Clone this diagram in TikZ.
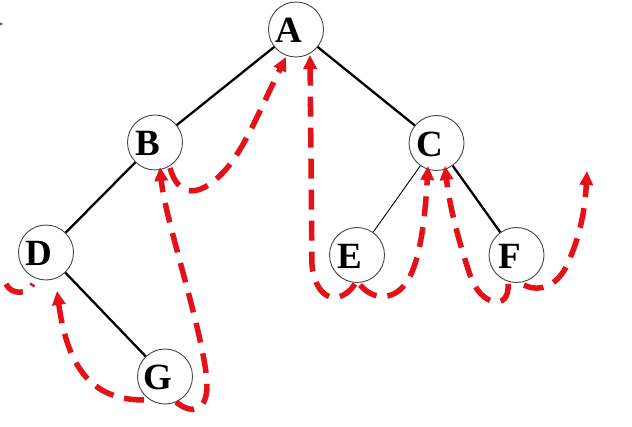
\documentclass[tikz,border=0pt]{standalone}
\usepackage{fontspec}
\setmainfont{Liberation Serif}
\usetikzlibrary{arrows.meta}
\definecolor{thr}{RGB}{228,18,24}
\definecolor{ring}{RGB}{70,70,70}
\tikzset{
  tn/.style={circle, draw=ring, line width=0.9pt, fill=white, minimum size=55pt, inner sep=0pt},
  lab/.style={font=\fontsize{37}{37}\selectfont\bfseries, xshift=-7pt, yshift=-1pt, inner sep=0pt},
  edge/.style={line width=2.3pt, black},
  thinedge/.style={line width=0.9pt, black},
  thread/.style={thr, line width=5.5pt, dash pattern=on 20pt off 11pt,
    -{Triangle[length=14pt,width=13pt]}},
  threadnt/.style={thr, line width=5.5pt, dash pattern=on 20pt off 11pt},
}
\begin{document}
\begin{tikzpicture}[x=1pt,y=-1pt]
\useasboundingbox (0,0) rectangle (632,427);
\fill[white] (0,0) rectangle (632,427);
\fill[teal!40!black!70] (0,22.5) -- (3.5,24) -- (0,25.5) -- cycle;
% edges first
\coordinate (pA) at (296,29.5);
\coordinate (pB) at (155,142.5);
\coordinate (pC) at (436.5,143);
\coordinate (pD) at (46,252.5);
\coordinate (pE) at (357,255);
\coordinate (pF) at (516.5,255);
\coordinate (pG) at (165,376.5);
\draw[edge] (pA) -- (pB);
\draw[edge] (pA) -- (pC);
\draw[edge] (pB) -- (pD);
\draw[edge] (pD) -- (pG);
\draw[thinedge] (pC) -- (pE);
\draw[edge] (pC) -- (pF);
% nodes
\node[tn, label={[lab]center:A}] (A) at (pA) {};
\node[tn, label={[lab]center:B}] (B) at (pB) {};
\node[tn, label={[lab]center:C}] (C) at (pC) {};
\node[tn, label={[lab]center:D}] (D) at (pD) {};
\node[tn, label={[lab]center:E}] (E) at (pE) {};
\node[tn, label={[lab]center:F}] (F) at (pF) {};
\node[tn, label={[lab]center:G}] (G) at (pG) {};
% thread end coordinates
\coordinate (tD) at (57,291);
\coordinate (tB) at (160,167);
\coordinate (tA1) at (286,57);
\coordinate (tA2) at (310,55);
\coordinate (tC1) at (428,166);
\coordinate (tC2) at (445,166);
\coordinate (tR) at (587,171);
% threads
\draw[threadnt] (6,284) .. controls (11,295) and (28,295) .. (33,284);
\draw[thread] (144,400) .. controls (95,400) and (68,372) .. (tD);
\draw[thread] (176,402) .. controls (192,415) and (208,412) .. (207,382)
  .. controls (203,330) and (165,220) .. (tB);
\draw[thread] (170,168) .. controls (178,196) and (196,196) .. (215,180)
  .. controls (240,160) and (255,120) .. (tA1);
\draw[thread] (355,284) .. controls (340,306) and (316,302) .. (312,265) -- (tA2);
\draw[thread] (360,285) .. controls (375,302) and (396,300) .. (408,280)
  .. controls (420,260) and (425,220) .. (tC1);
\draw[thread] (508,284) .. controls (510,312) and (480,306) .. (470,275)
  .. controls (460,245) and (450,210) .. (tC2);
\draw[thread] (524,285) .. controls (540,293) and (560,286) .. (570,258)
  .. controls (580,235) and (585,210) .. (tR);
\end{tikzpicture}
\end{document}
